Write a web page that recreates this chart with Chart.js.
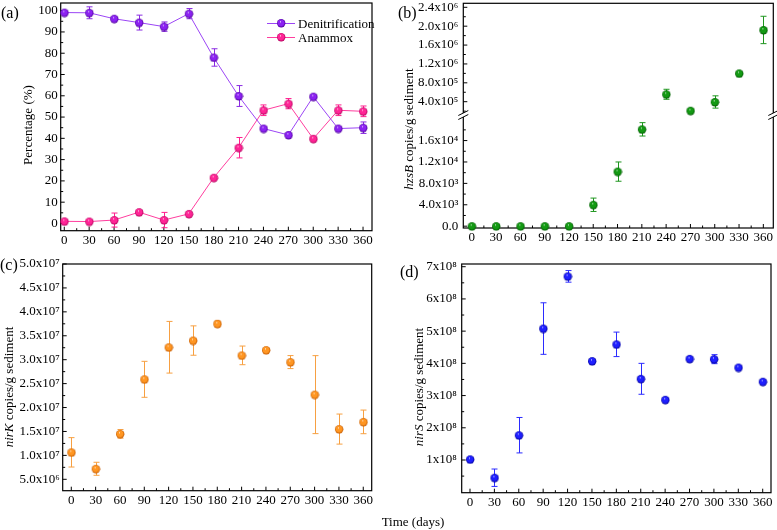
<!DOCTYPE html>
<html>
<head>
<meta charset="utf-8">
<script src="https://cdn.jsdelivr.net/npm/chart.js@4.4.1/dist/chart.umd.min.js"></script>
<style>
  html, body { margin: 0; padding: 0; background: #fff; }
  #page { position: relative; width: 777px; height: 530px; overflow: hidden;
          font-family: 'Liberation Serif', 'DejaVu Serif', serif; color: #000; }
  /* canvases are 20px larger on every side so label overflow never moves the plot box */
  canvas { position: absolute; left: -20px; top: -20px; }
  .txt { position: absolute; white-space: nowrap; font-size: 13px; line-height: 1; z-index: 5; }
  .center { transform: translate(-50%, -50%); }
  .ytitle { transform: translate(-50%, -50%) rotate(-90deg); }
  .plabel { font-size: 16px; }
  .legline { position: absolute; height: 1px; width: 28px; z-index: 5; }
  .legball { position: absolute; z-index: 6; }
</style>
</head>
<body>
<div id="page">
  <canvas id="chartA" width="817" height="570"></canvas>
  <canvas id="chartB" width="817" height="570"></canvas>
  <canvas id="chartC" width="817" height="570"></canvas>
  <canvas id="chartD" width="817" height="570"></canvas>

  <div class="txt plabel" style="left:1px; top:5px;">(a)</div>
  <div class="txt plabel" style="left:398px; top:5px;">(b)</div>
  <div class="txt plabel" style="left:0px; top:257px;">(c)</div>
  <div class="txt plabel" style="left:400px; top:264px;">(d)</div>

  <div class="txt ytitle" style="left:27px; top:125px;">Percentage (%)</div>
  <div class="txt ytitle" style="left:408px; top:129px;"><i>hzsB</i> copies/g sediment</div>
  <div class="txt ytitle" style="left:8px; top:387px;"><i>nirK</i> copies/g sediment</div>
  <div class="txt ytitle" style="left:418px; top:387px;"><i>nirS</i> copies/g sediment</div>
  <div class="txt center" style="left:413px; top:521px;">Time (days)</div>

  <!-- legend of panel (a) -->
  <div class="legline" style="left:267px; top:23px; background:#9b45f5;"></div>
  <img class="legball" id="legDen" style="left:276px; top:18px;">
  <div class="txt" style="left:298px; top:16.5px;">Denitrification</div>
  <div class="legline" style="left:267px; top:37px; background:#ff3d9e;"></div>
  <img class="legball" id="legAna" style="left:276px; top:32px;">
  <div class="txt" style="left:298px; top:31px;">Anammox</div>
</div>

<script>
// ===============================
// Data
// ===============================
const days = [0, 30, 60, 90, 120, 150, 180, 210, 240, 270, 300, 330, 360];

const denitrification    = [99.1, 99.0, 96.2, 94.4, 92.5, 98.6, 78.0, 59.9, 44.6, 41.6, 59.6, 44.6, 45.0];
const denitrificationErr = [0.5, 2.8, 0.6, 3.5, 2.2, 2.4, 4.1, 4.9, 0.6, 0.5, 0.6, 0.6, 2.7];
const anammox            = [1.0, 0.9, 1.6, 5.3, 1.6, 4.5, 21.5, 35.6, 53.2, 56.3, 39.8, 53.2, 52.7];
const anammoxErr         = [0.5, 0.5, 3.3, 0.6, 3.6, 0.6, 0.6, 4.8, 2.5, 2.4, 0.6, 2.5, 2.5];

const hzsB    = [0, 0, 0, 0, 0, 4000, 10200, 18100, 5.57e5, 2.09e5, 3.94e5, 1.0e6, 1.92e6];
const hzsBErr = [0, 0, 0, 0, 0, 1250, 1800, 1250, 1.06e5, 0, 1.3e5, 0, 2.9e5];

const nirK    = [1.064e7, 7.2e6, 1.45e7, 2.59e7, 3.26e7, 3.40e7, 3.75e7, 3.09e7, 3.20e7, 2.95e7, 2.27e7, 1.55e7, 1.70e7];
const nirKErr = [3.07e6, 1.36e6, 0.9e6, 3.76e6, 5.4e6, 3.07e6, 0.6e6, 1.95e6, 0.3e6, 1.36e6, 8.15e6, 3.14e6, 2.47e6];

const nirS    = [1.02e8, 4.5e7, 1.77e8, 5.08e8, 6.70e8, 4.07e8, 4.59e8, 3.52e8, 2.87e8, 4.14e8, 4.13e8, 3.87e8, 3.43e8];
const nirSErr = [0, 2.7e7, 5.5e7, 8.0e7, 1.8e7, 0, 3.8e7, 4.8e7, 0, 0, 1.4e7, 0, 0];

// hzsB is drawn on a broken axis: values below this go on the lower part
const hzsBBreak = 1e5;

// labelled tick ranges [first, last, step]
const ticksA    = [0, 100, 10];
const ticksBLow = [0, 16000, 4000];
const ticksBHi  = [4e5, 2.4e6, 4e5];
const ticksC    = [5e6, 5e7, 5e6];
const ticksD    = [1e8, 7e8, 1e8];

// ===============================
// Shared look
// ===============================
Chart.defaults.font.family = "'Liberation Serif', 'DejaVu Serif', serif";
Chart.defaults.font.size = 13;
Chart.defaults.color = "#000";

const SUP = { "0": "\u2070", "1": "\u00b9", "2": "\u00b2", "3": "\u00b3", "4": "\u2074",
              "5": "\u2075", "6": "\u2076", "7": "\u2077", "8": "\u2078", "9": "\u2079" };

function sci(v, digits) {
  if (Math.abs(v) < 1e-6) return digits ? "0.0" : "0";
  let e = Math.floor(Math.log10(Math.abs(v)));
  let m = Number((v / Math.pow(10, e)).toFixed(digits));
  if (m >= 10) { m = m / 10; e += 1; }
  return m.toFixed(digits) + "x10" + String(e).split("").map(c => SUP[c]).join("");
}

// shaded ball used as marker
function ball(base, edge, r) {
  const c = document.createElement("canvas");
  const s = 2 * r + 2;
  c.width = s; c.height = s;
  const g = c.getContext("2d");
  const cx = s / 2, cy = s / 2;
  const grad = g.createRadialGradient(cx - r * 0.2, cy - r * 0.35, 0, cx, cy, r);
  grad.addColorStop(0, "#ffffff");
  grad.addColorStop(0.22, base);
  grad.addColorStop(0.7, base);
  grad.addColorStop(1, edge);
  g.fillStyle = grad;
  g.beginPath();
  g.arc(cx, cy, r, 0, Math.PI * 2);
  g.fill();
  return c;
}

const ballDen = ball("#8c22f2", "#4d0099", 4.2);
const ballAna = ball("#ff2596", "#b3005c", 4.2);
const ballGreen = ball("#139a13", "#005800", 4.2);
const ballOrange = ball("#ff9622", "#c45a00", 4.2);
const ballBlue = ball("#1f1fff", "#00009a", 4.2);

document.getElementById("legDen").src = ballDen.toDataURL();
document.getElementById("legAna").src = ballAna.toDataURL();

// error bars drawn from the dataset's errors array through the scales
const errorBars = {
  id: "errorBars",
  beforeDatasetsDraw(chart) {
    const ctx = chart.ctx;
    chart.data.datasets.forEach((ds, i) => {
      if (!ds.errors) return;
      const meta = chart.getDatasetMeta(i);
      const ys = chart.scales[meta.yAxisID];
      ctx.save();
      ctx.strokeStyle = ds.errorColor;
      ctx.lineWidth = 1;
      meta.data.forEach((pt, j) => {
        const v = ds.data[j].y, e = ds.errors[j];
        if (v == null || !e) return;
        const top = ys.getPixelForValue(v + e);
        const bot = ys.getPixelForValue(v - e);
        const x = Math.round(pt.x) + 0.5;
        ctx.beginPath();
        ctx.moveTo(x, top); ctx.lineTo(x, bot);
        ctx.moveTo(x - 3, top); ctx.lineTo(x + 3, top);
        ctx.moveTo(x - 3, bot); ctx.lineTo(x + 3, bot);
        ctx.stroke();
      });
      ctx.restore();
    });
  }
};

// box frame + inward major/minor ticks
const frameTicks = {
  id: "frameTicks",
  beforeDatasetsDraw(chart) {
    const { ctx, chartArea: a } = chart;
    ctx.save();
    ctx.strokeStyle = "#000";
    ctx.lineWidth = 1.2;
    ctx.strokeRect(a.left, a.top, a.right - a.left, a.bottom - a.top);
    ctx.lineWidth = 1;
    Object.values(chart.scales).forEach(s => {
      const vals = s.ticks.map(t => t.value);
      if (vals.length < 2) return;
      const step = vals[1] - vals[0];
      const marks = vals.map(v => [v, 4]);
      for (let k = -1; k < vals.length; k++) {
        const v = vals[0] + (k + 0.5) * step;
        if (v >= s.min && v <= s.max) marks.push([v, 2.5]);
      }
      ctx.beginPath();
      marks.forEach(([v, len]) => {
        const p = s.getPixelForValue(v);
        if (s.isHorizontal()) {
          ctx.moveTo(p, a.bottom); ctx.lineTo(p, a.bottom - len);
        } else {
          ctx.moveTo(a.left, p); ctx.lineTo(a.left + len, p);
        }
      });
      ctx.stroke();
    });
    ctx.restore();
  }
};

// break marks for panel (b)
const axisBreak = {
  id: "axisBreak",
  afterDraw(chart) {
    if (!chart.scales.yLow) return;
    const { ctx, chartArea: a } = chart;
    const y0 = chart.scales.yLow.top;
    ctx.save();
    [a.left, a.right].forEach(x => {
      ctx.fillStyle = "#fff";
      ctx.fillRect(x - 2, y0 - 2, 4, 4);
      ctx.strokeStyle = "#000";
      ctx.lineWidth = 1;
      ctx.beginPath();
      ctx.moveTo(x - 5, y0 + 0.5); ctx.lineTo(x + 5, y0 - 4.5);
      ctx.moveTo(x - 5, y0 + 4.5); ctx.lineTo(x + 5, y0 - 0.5);
      ctx.stroke();
    });
    ctx.restore();
  }
};

// replace Chart.js' own tick list by [first, last, step]
function fixedTicks(spec) {
  return s => {
    const out = [];
    const n = Math.round((spec[1] - spec[0]) / spec[2]);
    for (let k = 0; k <= n; k++) out.push({ value: spec[0] + k * spec[2] });
    s.ticks = out;
  };
}

function xAxis(min, max) {
  return {
    type: "linear", min: min, max: max,
    grid: { display: false, drawTicks: false },
    border: { display: false },
    ticks: { autoSkip: false, maxRotation: 0, padding: 2 },
    afterBuildTicks: fixedTicks([0, 360, 30]),
    afterFit: s => { s.height = 22; }
  };
}

function yAxis(min, max, spec, fmt, pad) {
  return {
    type: "linear", position: "left", min: min, max: max,
    grid: { display: false, drawTicks: false },
    border: { display: false },
    ticks: { autoSkip: false, padding: pad, callback: fmt },
    afterBuildTicks: fixedTicks(spec),
    afterFit: s => { s.width = 50; }
  };
}

// plot box in page pixels -> padding of the 817x570 canvas shifted by 20px
function pad(L, T, R, B) {
  return { left: L + 20 - 50, top: T + 20, right: 797 - R, bottom: 550 - B - 22 };
}

function pts(values) {
  return days.map((d, i) => ({ x: d, y: values[i] }));
}

const common = {
  responsive: false,
  animation: false,
  events: [],
  plugins: { legend: { display: false }, tooltip: { enabled: false } }
};

// ===============================
// (a) Percentage
// ===============================
new Chart(document.getElementById("chartA"), {
  type: "scatter",
  data: {
    datasets: [
      { data: pts(denitrification), errors: denitrificationErr, errorColor: "#8a2be2",
        showLine: true, borderColor: "#9b45f5", borderWidth: 1, pointStyle: ballDen, clip: false },
      { data: pts(anammox), errors: anammoxErr, errorColor: "#ff1f8f",
        showLine: true, borderColor: "#ff3d9e", borderWidth: 1, pointStyle: ballAna, clip: false }
    ]
  },
  options: Object.assign({}, common, {
    layout: { padding: pad(60.7, 3, 372, 230.7) },
    scales: {
      x: xAxis(-4.3, 370.8),
      y: yAxis(-3.4, 103.6, ticksA, v => v, 3)
    }
  }),
  plugins: [frameTicks, errorBars]
});

// ===============================
// (b) hzsB, broken axis
// ===============================
new Chart(document.getElementById("chartB"), {
  type: "scatter",
  data: {
    datasets: [
      { data: pts(hzsB.map(v => v < hzsBBreak ? v : null)), yAxisID: "yLow",
        errors: hzsBErr, errorColor: "#1e961e", pointStyle: ballGreen, clip: false },
      { data: pts(hzsB.map(v => v >= hzsBBreak ? v : null)), yAxisID: "yHigh",
        errors: hzsBErr, errorColor: "#1e961e", pointStyle: ballGreen, clip: false }
    ]
  },
  options: Object.assign({}, common, {
    layout: { padding: pad(463.3, 3.3, 773.3, 228) },
    scales: {
      x: xAxis(-10.4, 372.3),
      yLow: Object.assign(yAxis(-340, 20780, ticksBLow, v => sci(v, 1), 5), { stack: "hz", stackWeight: 113 }),
      yHigh: Object.assign(yAxis(1.18e5, 2.485e6, ticksBHi, v => sci(v, 1), 5), { stack: "hz", stackWeight: 111.7 })
    }
  }),
  plugins: [frameTicks, errorBars, axisBreak]
});

// ===============================
// (c) nirK
// ===============================
new Chart(document.getElementById("chartC"), {
  type: "scatter",
  data: {
    datasets: [
      { data: pts(nirK), errors: nirKErr, errorColor: "#f7a042", pointStyle: ballOrange, clip: false }
    ]
  },
  options: Object.assign({}, common, {
    layout: { padding: pad(62.7, 264, 371.7, 490.7) },
    scales: {
      x: xAxis(-10.6, 370.4),
      y: yAxis(2.62e6, 5.0e7, ticksC, v => sci(v, 1), 3)
    }
  }),
  plugins: [frameTicks, errorBars]
});

// ===============================
// (d) nirS
// ===============================
new Chart(document.getElementById("chartD"), {
  type: "scatter",
  data: {
    datasets: [
      { data: pts(nirS), errors: nirSErr, errorColor: "#2b2bff", pointStyle: ballBlue, clip: false }
    ]
  },
  options: Object.assign({}, common, {
    layout: { padding: pad(461.7, 264, 771, 492.7) },
    scales: {
      x: xAxis(-10.2, 370.2),
      y: yAxis(-1.5e6, 7.084e8, ticksD, v => sci(v, 0), 5)
    }
  }),
  plugins: [frameTicks, errorBars]
});
</script>
</body>
</html>
